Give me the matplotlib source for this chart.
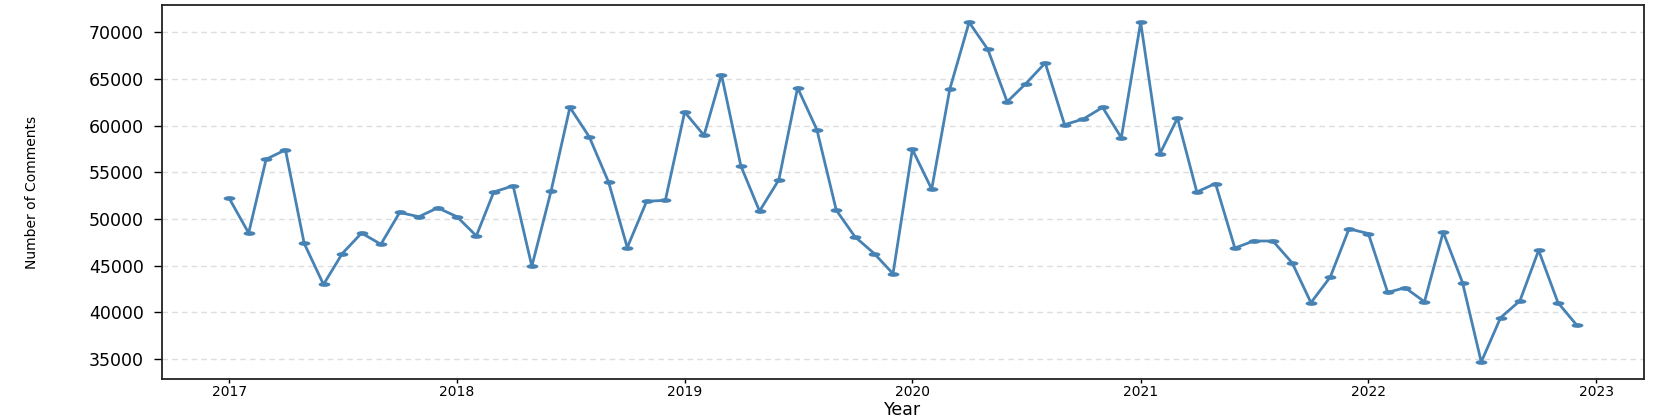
import pandas as pd
import matplotlib
matplotlib.use("Agg")
from matplotlib import pyplot as plt
import matplotlib.dates as mdates
from matplotlib.markers import MarkerStyle
from matplotlib.transforms import Affine2D

# monthly comment counts
comments_2017 = [52200, 48500, 56400, 57400, 47400, 43000, 46300, 48500, 47300, 50700, 50250, 51200]
comments_2018 = [50250, 48200, 52900, 53550, 44950, 53050, 61950, 58800, 53950, 46950, 51900, 52000]
comments_2019 = [61450, 58950, 65450, 55700, 50850, 54200, 64050, 59550, 50950, 48100, 46300, 44150]
comments_2020 = [57450, 53200, 63900, 71050, 68150, 62550, 64500, 66700, 60100, 60700, 61950, 58700]
comments_2021 = [71050, 57000, 60800, 52900, 53800, 46900, 47650, 47650, 45300, 41050, 43800, 48950]
comments_2022 = [48450, 42150, 42650, 41150, 48600, 43200, 34700, 39450, 41250, 46650, 41050, 38650]

counts = (comments_2017 + comments_2018 + comments_2019
          + comments_2020 + comments_2021 + comments_2022)
months = pd.date_range("2017-01-01", periods=len(counts), freq="MS")

fig = plt.figure(figsize=(16.61, 4.2), dpi=100)
ax = fig.add_axes([0.0975, 0.0976, 0.8923, 0.8897])

# the original picture is stretched sideways, so the dots are flat ellipses
dot = MarkerStyle("o", transform=Affine2D().scale(2.5, 1))
ax.plot(months, counts, color="#4682B4", linewidth=2, marker=dot,
        markersize=3.4, markeredgewidth=0)

ax.grid(axis="y", linestyle=(0, (4, 3)), color="#dddddd", linewidth=1)
ax.set_axisbelow(True)

ax.xaxis.set_major_locator(mdates.YearLocator())
ax.xaxis.set_major_formatter(mdates.DateFormatter("%Y"))
ax.set_yticks([35000, 40000, 45000, 50000, 55000, 60000, 65000, 70000])

ax.tick_params(axis="y", length=6, width=1, pad=7, labelsize=12.5)
ax.tick_params(axis="x", length=3, width=1, pad=1.5, labelsize=10)

for side in ax.spines:
    ax.spines[side].set_color("#222222")
    ax.spines[side].set_linewidth(1.3)

ax.set_xlabel("Year", fontsize=12.5, va="bottom")
ax.xaxis.set_label_coords(0.5, -0.106)
ax.set_ylabel("Number of Comments", fontsize=10, va="center")
ax.yaxis.set_label_coords(-0.088, 0.5)

fig.savefig("out.png", dpi=100)
